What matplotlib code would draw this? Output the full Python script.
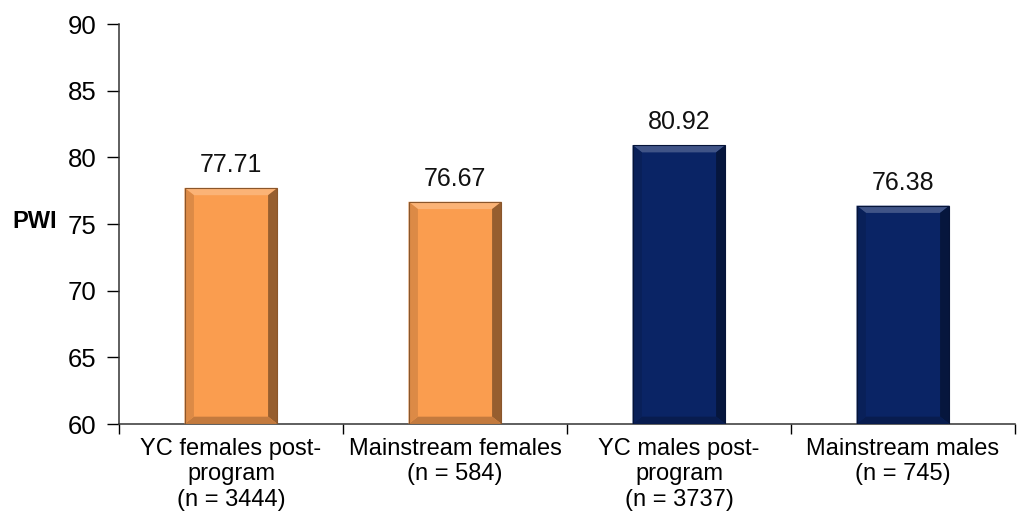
import matplotlib
matplotlib.use("Agg")
import matplotlib.pyplot as plt
from matplotlib.patches import Polygon
import numpy as np

categories = ["YC females post-\nprogram\n(n = 3444)", "Mainstream females\n(n = 584)",
              "YC males post-\nprogram\n(n = 3737)", "Mainstream males\n(n = 745)"]
values = [77.71, 76.67, 80.92, 76.38]
value_labels = ["77.71", "76.67", "80.92", "76.38"]
colors = ["#FA9D4F", "#FA9D4F", "#0A2465", "#0A2465"]
y_ticks = [60, 65, 70, 75, 80, 85, 90]

plt.rcParams['font.family'] = ['Liberation Sans', 'DejaVu Sans']
fig = plt.figure(figsize=(10.17, 5.16), dpi=100)
ax = fig.add_axes([119/1017, 1 - 424/516, 896/1017, 400/516])

x = np.arange(len(categories))
bw = 0.415
bars = ax.bar(x, [v - 60 for v in values], bottom=60, width=bw, color=colors,
              edgecolor="none", zorder=2)

def darker(c, f):
    r, g, b = matplotlib.colors.to_rgb(c)
    return (r * f, g * f, b * f)

def lighter(c, f):
    r, g, b = matplotlib.colors.to_rgb(c)
    return (r + (1 - r) * f, g + (1 - g) * f, b + (1 - b) * f)

fig.canvas.draw()
to_disp = ax.transData
to_data = ax.transData.inverted()
bev = 10  # pixels
for i, (xi, v, c) in enumerate(zip(x, values, colors)):
    (x0, y0) = to_disp.transform((xi - bw / 2, 60))
    (x1, y1) = to_disp.transform((xi + bw / 2, v))
    outer = [(x0, y0), (x1, y0), (x1, y1), (x0, y1)]
    inner = [(x0 + bev, y0 + bev), (x1 - bev, y0 + bev), (x1 - bev, y1 - bev), (x0 + bev, y1 - bev)]
    faces = [
        ([outer[3], outer[2], inner[2], inner[3]], lighter(c, 0.22)),
        ([outer[1], outer[2], inner[2], inner[1]], darker(c, 0.6)),
        ([outer[0], outer[1], inner[1], inner[0]], darker(c, 0.78)),
        ([outer[0], outer[3], inner[3], inner[0]], darker(c, 0.88)),
    ]
    for pts, fc in faces:
        ax.add_patch(Polygon(to_data.transform(pts), closed=True, facecolor=fc,
                             edgecolor="none", zorder=3))
    ax.add_patch(Polygon(to_data.transform(outer), closed=True, facecolor="none",
                         edgecolor=darker(c, 0.55), linewidth=0.8, zorder=4))
    ax.text(xi, v + 0.8, value_labels[i], ha="center", va="bottom",
            fontsize=18, color="#111111")

ax.set_ylim(60, 90)
ax.set_xlim(-0.5, len(categories) - 0.5)
ax.set_yticks(y_ticks)
ax.set_yticklabels([str(t) for t in y_ticks], fontsize=18.5)
ax.set_xticks(np.arange(-0.5, len(categories), 1.0))
ax.set_xticklabels([])
ax.set_xticks(x, minor=True)
ax.set_xticklabels(categories, minor=True, fontsize=17, linespacing=1.2)
ax.tick_params(axis="x", which="minor", length=0, pad=10)
ax.tick_params(axis="x", which="major", length=7, direction="out", width=1)
ax.tick_params(axis="y", length=9, direction="out", width=1, pad=7)

for s in ["top", "right"]:
    ax.spines[s].set_visible(False)
for s in ["left", "bottom"]:
    ax.spines[s].set_linewidth(1.1)
    ax.spines[s].set_color("#333333")

fig.text(12/1017, 1 - 222/516, "PWI", fontsize=17, fontweight="bold", ha="left", va="center")

fig.savefig("out.png", dpi=100)
